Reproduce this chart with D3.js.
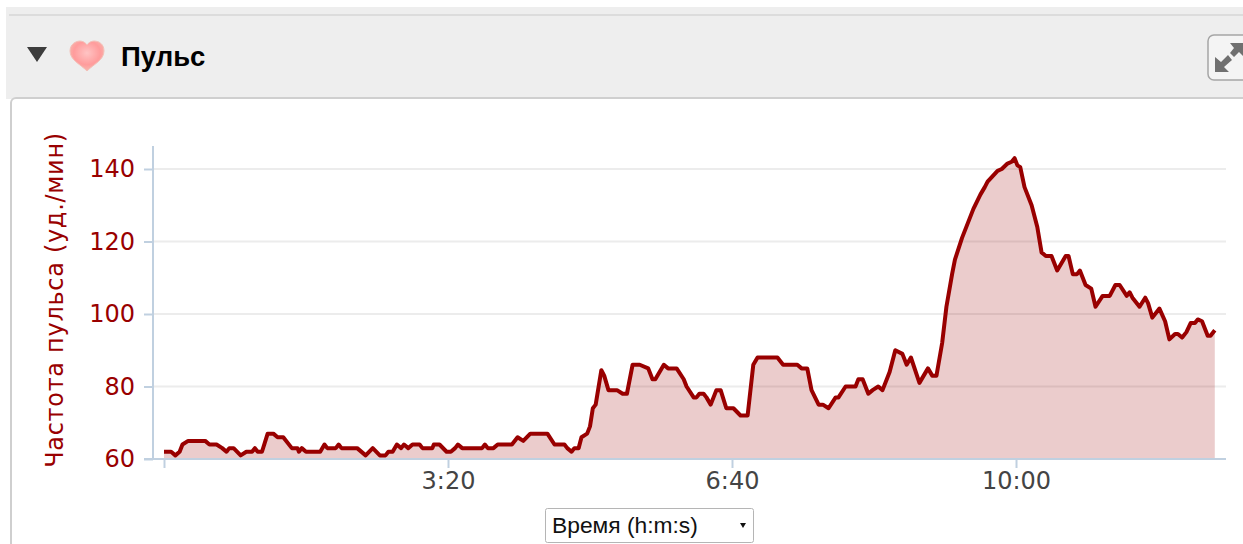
<!DOCTYPE html>
<html>
<head>
<meta charset="utf-8">
<script src="https://cdnjs.cloudflare.com/ajax/libs/d3/7.8.5/d3.min.js"></script>
<style>
html, body { margin: 0; padding: 0; background: #fff; overflow: hidden; }
svg { display: block; }
.tick text { font-family: "DejaVu Sans", sans-serif; font-size: 24px; }
</style>
</head>
<body>
<svg width="1243" height="544"></svg>
<script>
let title = 'Пульс';
let yTitle = 'Частота пульса (уд./мин)';
let selectLabel = 'Время (h:m:s)';
let yTicks = [60, 80, 100, 120, 140];
let xTicks = [0, 200, 400, 600];

// seconds from start
let seconds = [
  0, 5, 8, 11, 13, 17, 29, 32, 37, 41, 44, 46, 49, 54, 58, 62, 64, 66, 69, 73, 77, 80, 84, 90, 94, 95, 97, 100,
  110, 113, 115, 121, 123, 125, 136, 142, 147, 152, 156, 158, 161, 164, 167, 169, 172, 175, 180, 182, 189, 190, 194, 199,
  202, 205, 207, 210, 224, 226, 228, 232, 235, 245, 249, 253, 258, 265,
  270, 275, 282, 284, 287, 289, 292, 294, 298, 300, 302, 304, 308, 310, 313, 319, 323, 326, 330, 335, 341, 344, 346, 349,
  352, 355, 361, 366, 368, 373, 375, 377, 380, 382, 385, 389, 392, 396, 401, 406, 411, 415, 418, 432, 436, 446, 449, 453,
  456, 461, 464, 468, 473, 475, 480, 487, 489, 492, 496, 499, 503, 506, 511, 515, 520, 523, 526, 532, 538, 541, 544,
  548, 551, 555, 557, 562, 570, 575, 578, 580, 587, 590, 594, 597, 599, 601, 603, 606, 611, 615, 618, 621, 625, 629, 632,
  635, 637, 640, 643, 645, 647, 649, 653, 656, 661, 666, 670, 673, 678, 680, 682, 687, 691, 693, 696, 701, 705, 708, 712,
  714, 717, 720, 723, 726, 728, 731, 735, 737, 740
];
let bpm = [
  62, 62, 61, 62, 64, 65, 65, 64, 64, 63, 62, 63, 63, 61, 62, 62, 63, 62, 62, 67, 67, 66, 66, 63, 63, 62, 63, 62,
  62, 64, 63, 63, 64, 63, 63, 61, 63, 61, 61, 62, 62, 64, 63, 64, 63, 64, 64, 63, 63, 64, 64, 62,
  62, 63, 64, 63, 63, 64, 63, 63, 64, 64, 66, 65, 67, 67,
  67, 64, 64, 63, 62, 63, 63, 66, 67, 69, 74, 75, 84.5, 83, 79, 79, 78, 78, 86, 86, 85, 82, 82, 84,
  86, 85, 85, 82, 80, 77, 77, 78, 78, 77, 75, 79, 79, 74, 74, 72, 72, 86, 88, 88, 86, 86, 85, 85,
  79, 75, 75, 74, 77, 77, 80, 80, 82, 82, 78, 79, 80, 79, 84, 90, 89, 86, 88, 81, 85, 83, 83,
  92, 102, 111, 115, 121, 129, 133, 135, 136.5, 139.5, 140, 141.5, 142, 143, 141, 140.5, 135, 130, 124, 117, 116, 116, 112, 114,
  116, 116, 111, 111, 112, 110, 108, 107, 102, 105, 105, 108, 108, 105, 106, 104.5, 102, 104.5, 103, 99, 101.5, 98, 93, 94.5,
  94.5, 93.5, 95, 97.5, 97.5, 98.5, 98, 94, 94, 95.5
];
let pulse = seconds.map((s, i) => ({ s: s, v: bpm[i] }));

let svg = d3.select('svg');
let defs = svg.append('defs');
let heartGrad = defs.append('radialGradient').attr('id', 'heartGrad').attr('cy', '40%').attr('r', '60%');
heartGrad.append('stop').attr('offset', '0%').attr('stop-color', '#ffc4c4');
heartGrad.append('stop').attr('offset', '65%').attr('stop-color', '#ff9c9c');
heartGrad.append('stop').attr('offset', '100%').attr('stop-color', '#f7b9b0');
defs.append('filter').attr('id', 'soft').append('feGaussianBlur').attr('stdDeviation', 0.6);

let x = d3.scaleLinear().domain([0, 600]).range([164, 1016]);
let y = d3.scaleLinear().domain([60, 140]).range([459, 169]);

// header bar and panel
svg.append('rect').attr('x', 6).attr('y', 7).attr('width', 1237).attr('height', 92).attr('fill', '#eeeeee');
svg.append('rect').attr('x', 9).attr('y', 14).attr('width', 1234).attr('height', 2).attr('fill', '#dcdcdc');
svg.append('rect').attr('x', 11).attr('y', 98).attr('width', 1240).attr('height', 470).attr('rx', 5)
  .attr('fill', '#fff').attr('stroke', '#cfcfcf').attr('stroke-width', 2);

svg.append('path').attr('d', 'M27,47L47,47L37,62Z').attr('fill', '#3c3c3c').attr('filter', 'url(#soft)');
svg.append('path')
  .attr('d', 'M87,71C80,64 70,60 70,51C70,44 76,41 80,41C83,41 86,43 87,45C88,43 91,41 94,41C99,41 104,44 104,51C104,60 94,64 87,71Z')
  .attr('fill', 'url(#heartGrad)').attr('stroke', '#f2c0b8').attr('stroke-width', 1).attr('filter', 'url(#soft)');
svg.append('text').attr('x', 121).attr('y', 66).text(title)
  .attr('font-family', '"Liberation Sans", Arial, sans-serif').attr('font-weight', 700)
  .attr('font-size', 27.5).attr('fill', '#000');

// expand button
svg.append('rect').attr('x', 1208).attr('y', 35).attr('width', 60).attr('height', 45).attr('rx', 6)
  .attr('fill', '#f4f4f4').attr('stroke', '#a5a5a5').attr('stroke-width', 1.5);
let btn = svg.append('g').attr('fill', '#707070').attr('filter', 'url(#soft)');
btn.append('path').attr('d', 'M1215,57L1215,72L1229,72L1224,67L1232,60L1228,55L1221,62Z');
btn.append('path').attr('d', 'M1230,43L1243,43L1243,56L1239,52L1234,57L1230,53L1234,48Z');

// grid
let gridG = svg.append('g');
gridG.selectAll('line').data(yTicks.slice(1)).enter().append('line')
  .attr('x1', 153).attr('x2', 1226)
  .attr('y1', d => y(d)).attr('y2', d => y(d))
  .attr('stroke', '#ececec').attr('stroke-width', 2);

// area and line
let area = d3.area().x(d => x(d.s)).y0(y(60)).y1(d => y(d.v));
let line = d3.line().x(d => x(d.s)).y(d => y(d.v));
svg.append('path').datum(pulse).attr('d', area).attr('fill', '#990000').attr('fill-opacity', 0.2);
svg.append('path').datum(pulse).attr('d', line).attr('fill', 'none')
  .attr('stroke', '#990000').attr('stroke-width', 4).attr('stroke-linejoin', 'round');

// axes
let yAxis = d3.axisLeft(y).tickValues(yTicks).tickSize(9).tickPadding(9);
let yG = svg.append('g').attr('transform', 'translate(153,0)').call(yAxis);
yG.select('.domain').attr('d', 'M0,146V459');
yG.selectAll('.domain, .tick line').attr('stroke', '#c0d0e0').attr('stroke-width', 2);
yG.selectAll('.tick text').attr('fill', '#990000');

let xAxis = d3.axisBottom(x).tickValues(xTicks).tickSize(9).tickPadding(4)
  .tickFormat(d => d === 0 ? '' : Math.floor(d / 60) + ':' + d3.format('02')(d % 60));
let xG = svg.append('g').attr('transform', 'translate(0,459)').call(xAxis);
xG.select('.domain').attr('d', 'M144,0H1226');
xG.selectAll('.domain, .tick line').attr('stroke', '#c0d0e0').attr('stroke-width', 2);
xG.selectAll('.tick text').attr('fill', '#444');

svg.append('text').text(yTitle)
  .attr('transform', 'translate(63,300) rotate(-90)')
  .attr('text-anchor', 'middle')
  .attr('font-family', '"DejaVu Sans", sans-serif')
  .attr('letter-spacing', 0.7)
  .attr('font-size', 24).attr('fill', '#990000');

// time selector
svg.append('rect').attr('x', 545.5).attr('y', 508.5).attr('width', 208).attr('height', 34).attr('rx', 2)
  .attr('fill', '#fff').attr('stroke', '#b5b5b5').attr('stroke-width', 1);
svg.append('text').attr('x', 552).attr('y', 533).text(selectLabel)
  .attr('font-family', '"Liberation Sans", Arial, sans-serif').attr('font-size', 22.8).attr('fill', '#111');
svg.append('path').attr('d', 'M740,523L746,523L743,528Z').attr('fill', '#111');
</script>
</body>
</html>
